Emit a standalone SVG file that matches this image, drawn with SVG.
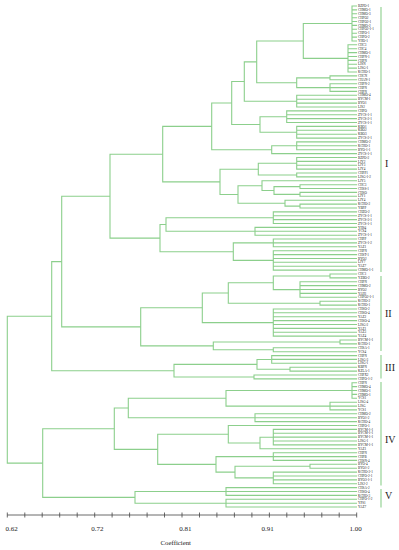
<svg xmlns="http://www.w3.org/2000/svg" width="399" height="550" viewBox="0 0 399 550">
<style>
.e{fill:none;stroke:#8ccf8c;stroke-width:1.1}
.ax{fill:none;stroke:#444;stroke-width:0.8}
.t{font-family:"Liberation Serif","Times New Roman",serif;font-size:3.3px;fill:#222}
.a{font-family:"Liberation Serif","Times New Roman",serif;font-size:7px;fill:#222;text-anchor:middle}
.c{font-family:"Liberation Serif","Times New Roman",serif;font-size:10px;fill:#222}
</style>
<rect width="399" height="550" fill="#fff"/>
<g id="connectors" class="e">
<path d="M357 6H352V41H357M352 9.9H357M352 13.8H357M352 17.7H357M352 21.5H357M352 25.4H357M352 29.3H357M352 33.2H357M352 37.1H357"/>
<path d="M357 44.8H348V72H357M348 48.7H357M348 52.6H357M348 56.5H357M348 60.4H357M348 64.3H357M348 68.1H357"/>
<path d="M357 75.9H330V79.8H357"/>
<path d="M357 83.7H330V91.4H357M330 87.6H357"/>
<path d="M357 95.3H296.7V107H357M296.7 99.2H357M296.7 103.1H357"/>
<path d="M357 110.9H286.7V122.5H357M286.7 114.8H357M286.7 118.6H357"/>
<path d="M357 126.4H296.7V138.1H357M296.7 130.3H357M296.7 134.2H357"/>
<path d="M357 141.9H296.7V149.7H357M296.7 145.8H357"/>
<path d="M357 157.5H296.7V169.1H357M296.7 161.4H357M296.7 165.2H357"/>
<path d="M357 173H296.7V176.9H357"/>
<path d="M357 184.7H300V188.5H357"/>
<path d="M357 192.4H300V196.3H357"/>
<path d="M357 204.1H300V208H357"/>
<path d="M357 211.9H273.3V223.5H357M273.3 215.7H357M273.3 219.6H357"/>
<path d="M357 227.4H255V235.2H357M255 231.3H357"/>
<path d="M357 239H273.3V246.8H357M273.3 242.9H357"/>
<path d="M357 250.7H273.3V270.1H357M273.3 254.6H357M273.3 258.5H357M273.3 262.3H357M273.3 266.2H357"/>
<path d="M352 23.5H303.3V58.4H348"/>
<path d="M330 77.9H296.7V87.6H330"/>
<path d="M303.3 41H256.7V82.7H296.7"/>
<path d="M256.7 61.9H244.3V101.2H296.7"/>
<path d="M286.7 116.7H260V132.2H296.7"/>
<path d="M244.3 81.5H231.7V124.5H260"/>
<path d="M296.7 145.8H271.7V153.6H357"/>
<path d="M231.7 103H211.7V149.7H271.7"/>
<path d="M296.7 163.3H258.3V175H296.7"/>
<path d="M300 186.6H274V194.4H300"/>
<path d="M357 180.8H262V190.5H274"/>
<path d="M357 200.2H285V206.1H300"/>
<path d="M262 185.7H238V203.2H285"/>
<path d="M258.3 169.2H220V194.5H238"/>
<path d="M211.7 126.4H162.7V181.9H220"/>
<path d="M273.3 217.7H166V231.3H255"/>
<path d="M273.3 242.9H233.3V260.4H273.3"/>
<path d="M166 224.5H160V251.7H233.3"/>
<path d="M162.7 154.2H110V238.1H160"/>
<path d="M357 274H330V277.9H357"/>
<path d="M357 281.8H300V297.3H357M300 285.6H357M300 289.5H357M300 293.4H357"/>
<path d="M357 301.2H320V305.1H357"/>
<path d="M357 309H273.3V336.1H357M273.3 312.8H357M273.3 316.7H357M273.3 320.6H357M273.3 324.5H357M273.3 328.4H357M273.3 332.3H357"/>
<path d="M357 340H340V343.9H357"/>
<path d="M357 347.8H273.3V351.7H357"/>
<path d="M330 276H273.3V289.6H300"/>
<path d="M273.3 282.8H228.3V303.2H320"/>
<path d="M228.3 293H202.3V322.6H273.3"/>
<path d="M340 342H213.3V349.8H273.3"/>
<path d="M202.3 307.8H140.7V345.9H213.3"/>
<path d="M110 196.2H61.7V326.9H140.7"/>
<path d="M357 355.6H271.7V363.3H357M271.7 359.4H357"/>
<path d="M357 367.2H290V371.1H357"/>
<path d="M357 375H254V378.9H357"/>
<path d="M271.7 359.5H257V369.2H290"/>
<path d="M257 364.4H174V377H254"/>
<path d="M61.7 261.6H51.7V370.7H174"/>
<path d="M357 382.7H352V398.3H357M352 386.6H357M352 390.5H357M352 394.4H357"/>
<path d="M357 402.2H330V409.9H357M330 406.1H357"/>
<path d="M357 413.8H255V421.6H357M255 417.7H357"/>
<path d="M357 429.4H273.3V444.9H357M273.3 433.2H357M273.3 437.1H357M273.3 441H357"/>
<path d="M357 452.7H273.3V460.4H357M273.3 456.6H357"/>
<path d="M357 464.3H310V468.2H357"/>
<path d="M357 472.1H273.3V483.7H357M273.3 476H357M273.3 479.9H357"/>
<path d="M352 390.5H226V406.1H330"/>
<path d="M226 398.3H128.3V417.7H255"/>
<path d="M273.3 437.2H260V448.8H357"/>
<path d="M357 425.5H228.3V443H260"/>
<path d="M310 466.3H235V477.9H273.3"/>
<path d="M273.3 456.6H216V472.1H235"/>
<path d="M228.3 434.3H157.7V464.4H216"/>
<path d="M128.3 408H114.3V449.4H157.7"/>
<path d="M357 487.6H226V495.4H357M226 491.5H357"/>
<path d="M357 499.3H226V507H357M226 503.2H357"/>
<path d="M226 491.5H135V503.2H226"/>
<path d="M114.3 428.7H42.7V497.4H135"/>
<path d="M51.7 316.2H7.3V463.1H42.7"/>
</g>
<g id="cluster-brackets" class="e">
<path d="M381 7V272M381 276V351M381 355V378.5M381 382V485.5M381 489V507.5"/>
</g>
<g id="cluster-I"><text class="c" x="385" y="166.5">I</text></g>
<g id="cluster-II"><text class="c" x="385" y="316.5">II</text></g>
<g id="cluster-III"><text class="c" x="385" y="371">III</text></g>
<g id="cluster-IV"><text class="c" x="385" y="442.5">IV</text></g>
<g id="cluster-V"><text class="c" x="385" y="498.5">V</text></g>
<g id="leaves">
<g id="l0"><text class="t" x="358" y="7.1">BZPO-1</text></g>
<g id="l1"><text class="t" x="358" y="11">CHMO-1</text></g>
<g id="l2"><text class="t" x="358" y="14.9">CHMO-3</text></g>
<g id="l3"><text class="t" x="358" y="18.8">CHPO2</text></g>
<g id="l4"><text class="t" x="358" y="22.6">CHPO2-1</text></g>
<g id="l5"><text class="t" x="358" y="26.5">CHMO-2</text></g>
<g id="l6"><text class="t" x="358" y="30.4">CHPO2-1-1</text></g>
<g id="l7"><text class="t" x="358" y="34.3">CHPO-1</text></g>
<g id="l8"><text class="t" x="358" y="38.2">CHPO-2</text></g>
<g id="l9"><text class="t" x="358" y="42.1">YHO-1</text></g>
<g id="l10"><text class="t" x="358" y="45.9">CHC3</text></g>
<g id="l11"><text class="t" x="358" y="49.8">CHC4</text></g>
<g id="l12"><text class="t" x="358" y="53.7">CHMO-1</text></g>
<g id="l13"><text class="t" x="358" y="57.6">CHPN-1</text></g>
<g id="l14"><text class="t" x="358" y="61.5">CHPN</text></g>
<g id="l15"><text class="t" x="358" y="65.4">LJSN</text></g>
<g id="l16"><text class="t" x="358" y="69.2">LJSG-1</text></g>
<g id="l17"><text class="t" x="358" y="73.1">KCHO-1</text></g>
<g id="l18"><text class="t" x="358" y="77">CHCN</text></g>
<g id="l19"><text class="t" x="358" y="80.9">CHAN-1</text></g>
<g id="l20"><text class="t" x="358" y="84.8">CHPN-2</text></g>
<g id="l21"><text class="t" x="358" y="88.7">CHPN</text></g>
<g id="l22"><text class="t" x="358" y="92.5">CHPN</text></g>
<g id="l23"><text class="t" x="358" y="96.4">CHMO-4</text></g>
<g id="l24"><text class="t" x="358" y="100.3">BYCM-1</text></g>
<g id="l25"><text class="t" x="358" y="104.2">BYO1</text></g>
<g id="l26"><text class="t" x="358" y="108.1">LJS2</text></g>
<g id="l27"><text class="t" x="358" y="112">CHPO</text></g>
<g id="l28"><text class="t" x="358" y="115.9">ZYCS-1-1</text></g>
<g id="l29"><text class="t" x="358" y="119.7">ZYCS-2-1</text></g>
<g id="l30"><text class="t" x="358" y="123.6">ZYCS-1-1</text></g>
<g id="l31"><text class="t" x="358" y="127.5">KBO1</text></g>
<g id="l32"><text class="t" x="358" y="131.4">KBO2</text></g>
<g id="l33"><text class="t" x="358" y="135.3">KBO3</text></g>
<g id="l34"><text class="t" x="358" y="139.2">ZYCS-2-1</text></g>
<g id="l35"><text class="t" x="358" y="143">CHMO-2</text></g>
<g id="l36"><text class="t" x="358" y="146.9">KCHO-1</text></g>
<g id="l37"><text class="t" x="358" y="150.8">BYO-1-1</text></g>
<g id="l38"><text class="t" x="358" y="154.7">ZYCS-1-1</text></g>
<g id="l39"><text class="t" x="358" y="158.6">BZPO-2</text></g>
<g id="l40"><text class="t" x="358" y="162.5">LJY2</text></g>
<g id="l41"><text class="t" x="358" y="166.3">LJY3</text></g>
<g id="l42"><text class="t" x="358" y="170.2">LJY4</text></g>
<g id="l43"><text class="t" x="358" y="174.1">CHPP1</text></g>
<g id="l44"><text class="t" x="358" y="178">LJSG-1-2</text></g>
<g id="l45"><text class="t" x="358" y="181.9">LJY5</text></g>
<g id="l46"><text class="t" x="358" y="185.8">CHC3</text></g>
<g id="l47"><text class="t" x="358" y="189.6">CHSS-1</text></g>
<g id="l48"><text class="t" x="358" y="193.5">CHSO</text></g>
<g id="l49"><text class="t" x="358" y="197.4">LJY1</text></g>
<g id="l50"><text class="t" x="358" y="201.3">LJY4</text></g>
<g id="l51"><text class="t" x="358" y="205.2">KCHO-2</text></g>
<g id="l52"><text class="t" x="358" y="209.1">YBPP</text></g>
<g id="l53"><text class="t" x="358" y="213">CHZO-2</text></g>
<g id="l54"><text class="t" x="358" y="216.8">ZYCS-1-1</text></g>
<g id="l55"><text class="t" x="358" y="220.7">ZYCS-3-1</text></g>
<g id="l56"><text class="t" x="358" y="224.6">ZYCS-1-1</text></g>
<g id="l57"><text class="t" x="358" y="228.5">YHS4</text></g>
<g id="l58"><text class="t" x="358" y="232.4">YCS4</text></g>
<g id="l59"><text class="t" x="358" y="236.3">ZYCS-1-1</text></g>
<g id="l60"><text class="t" x="358" y="240.1">CHPP</text></g>
<g id="l61"><text class="t" x="358" y="244">ZYCS-1-2</text></g>
<g id="l62"><text class="t" x="358" y="247.9">YAZ1</text></g>
<g id="l63"><text class="t" x="358" y="251.8">CHPN</text></g>
<g id="l64"><text class="t" x="358" y="255.7">CHST-1</text></g>
<g id="l65"><text class="t" x="358" y="259.6">BYO2</text></g>
<g id="l66"><text class="t" x="358" y="263.4">LJY7</text></g>
<g id="l67"><text class="t" x="358" y="267.3">YAZ7</text></g>
<g id="l68"><text class="t" x="358" y="271.2">CHMO-1-1</text></g>
<g id="l69"><text class="t" x="358" y="275.1">CHC1</text></g>
<g id="l70"><text class="t" x="358" y="279">YZBO-2</text></g>
<g id="l71"><text class="t" x="358" y="282.9">CHPN</text></g>
<g id="l72"><text class="t" x="358" y="286.7">CHMO-2</text></g>
<g id="l73"><text class="t" x="358" y="290.6">BYO2</text></g>
<g id="l74"><text class="t" x="358" y="294.5">YAH1</text></g>
<g id="l75"><text class="t" x="358" y="298.4">CHPO2-1-1</text></g>
<g id="l76"><text class="t" x="358" y="302.3">KCHO-2</text></g>
<g id="l77"><text class="t" x="358" y="306.2">KCHO-1</text></g>
<g id="l78"><text class="t" x="358" y="310.1">CHSO-2</text></g>
<g id="l79"><text class="t" x="358" y="313.9">CHSO-4</text></g>
<g id="l80"><text class="t" x="358" y="317.8">YAZ2</text></g>
<g id="l81"><text class="t" x="358" y="321.7">CHSO-4</text></g>
<g id="l82"><text class="t" x="358" y="325.6">LJSG-2</text></g>
<g id="l83"><text class="t" x="358" y="329.5">YAZ1</text></g>
<g id="l84"><text class="t" x="358" y="333.4">YAZ3</text></g>
<g id="l85"><text class="t" x="358" y="337.2">YAZ4</text></g>
<g id="l86"><text class="t" x="358" y="341.1">BYCM-1-1</text></g>
<g id="l87"><text class="t" x="358" y="345">KCHO-1</text></g>
<g id="l88"><text class="t" x="358" y="348.9">CHSA-1</text></g>
<g id="l89"><text class="t" x="358" y="352.8">YCS4</text></g>
<g id="l90"><text class="t" x="358" y="356.7">CHPN</text></g>
<g id="l91"><text class="t" x="358" y="360.5">LJSG-3</text></g>
<g id="l92"><text class="t" x="358" y="364.4">LJSG-1</text></g>
<g id="l93"><text class="t" x="358" y="368.3">KBPN</text></g>
<g id="l94"><text class="t" x="358" y="372.2">KZLA-1</text></g>
<g id="l95"><text class="t" x="358" y="376.1">CHPX2</text></g>
<g id="l96"><text class="t" x="358" y="380">CHPO-1-2</text></g>
<g id="l97"><text class="t" x="358" y="383.8">CHPN</text></g>
<g id="l98"><text class="t" x="358" y="387.7">CHMO-4</text></g>
<g id="l99"><text class="t" x="358" y="391.6">CHMO-1</text></g>
<g id="l100"><text class="t" x="358" y="395.5">CHMO-1</text></g>
<g id="l101"><text class="t" x="358" y="399.4">YCS1</text></g>
<g id="l102"><text class="t" x="358" y="403.3">LJSG-4</text></g>
<g id="l103"><text class="t" x="358" y="407.2">LJSG</text></g>
<g id="l104"><text class="t" x="358" y="411">YCS1</text></g>
<g id="l105"><text class="t" x="358" y="414.9">CHMO-2</text></g>
<g id="l106"><text class="t" x="358" y="418.8">BYO1-2</text></g>
<g id="l107"><text class="t" x="358" y="422.7">KCHO-4</text></g>
<g id="l108"><text class="t" x="358" y="426.6">CHPO-1</text></g>
<g id="l109"><text class="t" x="358" y="430.5">BYCM-1-1</text></g>
<g id="l110"><text class="t" x="358" y="434.3">BYCM-1-1</text></g>
<g id="l111"><text class="t" x="358" y="438.2">BYCM-1-1</text></g>
<g id="l112"><text class="t" x="358" y="442.1">LJSG-1</text></g>
<g id="l113"><text class="t" x="358" y="446">BYCM-1-1</text></g>
<g id="l114"><text class="t" x="358" y="449.9">YAZ1</text></g>
<g id="l115"><text class="t" x="358" y="453.8">CHPN</text></g>
<g id="l116"><text class="t" x="358" y="457.7">CHPB</text></g>
<g id="l117"><text class="t" x="358" y="461.5">CHSN-4</text></g>
<g id="l118"><text class="t" x="358" y="465.4">BYO-4</text></g>
<g id="l119"><text class="t" x="358" y="469.3">BYO1-2</text></g>
<g id="l120"><text class="t" x="358" y="473.2">KCHO-2-1</text></g>
<g id="l121"><text class="t" x="358" y="477.1">CHPO-2-1</text></g>
<g id="l122"><text class="t" x="358" y="481">BYO3-1-1</text></g>
<g id="l123"><text class="t" x="358" y="484.8">LJS2-2</text></g>
<g id="l124"><text class="t" x="358" y="488.7">CHSA-2</text></g>
<g id="l125"><text class="t" x="358" y="492.6">CHSO-4</text></g>
<g id="l126"><text class="t" x="358" y="496.5">KCHO-3</text></g>
<g id="l127"><text class="t" x="358" y="500.4">CHPO-1-2</text></g>
<g id="l128"><text class="t" x="358" y="504.3">YPS1</text></g>
<g id="l129"><text class="t" x="358" y="508.1">YAZ7</text></g>
</g>
<g id="axis">
<path class="ax" d="M7.3 515H356.7M7.3 512.5V517.5M24.8 512.5V517.5M42.2 512.5V517.5M59.7 512.5V517.5M77.2 512.5V517.5M94.7 512.5V517.5M112.1 512.5V517.5M129.6 512.5V517.5M147.1 512.5V517.5M164.5 512.5V517.5M182 512.5V517.5M199.5 512.5V517.5M216.9 512.5V517.5M234.4 512.5V517.5M251.9 512.5V517.5M269.4 512.5V517.5M286.8 512.5V517.5M304.3 512.5V517.5M321.8 512.5V517.5M339.2 512.5V517.5M356.7 512.5V517.5"/>
<text class="a" x="11.7" y="531">0.62</text>
<text class="a" x="97.3" y="531">0.72</text>
<text class="a" x="185.3" y="531">0.81</text>
<text class="a" x="267.5" y="531">0.91</text>
<text class="a" x="355.5" y="531">1.00</text>
<text class="a" x="175.8" y="545" style="font-size:6.8px">Coefficient</text>
</g>
</svg>
